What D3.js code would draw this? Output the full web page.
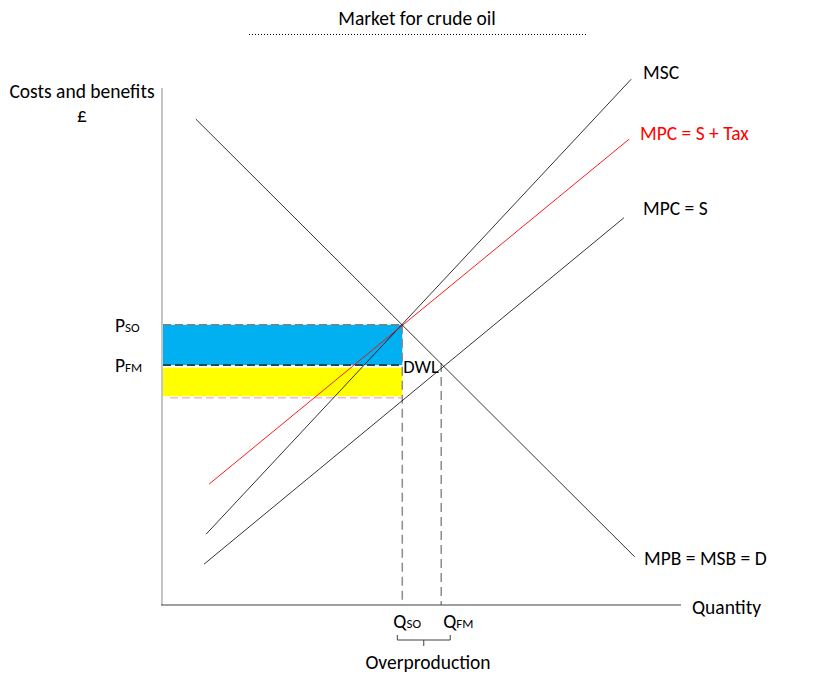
<!DOCTYPE html>
<html><head><meta charset="utf-8">
<script src="https://cdn.jsdelivr.net/npm/d3@7"></script>
<style>
html,body{margin:0;padding:0;background:#fff;}
svg{display:block;}
text{font-family:Carlito, Calibri, Lato, "Open Sans", sans-serif;}
</style></head>
<body>
<svg id="chart" width="831" height="685"></svg>
<script>
// ---- data ----
const title = "Market for crude oil";
const curveNames = ["MSC", "MPC = S + Tax", "MPC = S", "MPB = MSB = D"];
const curveColors = ["#000000", "#ff0000", "#000000", "#000000"];
const curveX0 = [8.5, 9.1, 8.1, 6.5];
const curveY0 = [13.7, 23.4, 7.9, 94.0];
const curveX1 = [90.4, 90.0, 89.0, 91.1];
const curveY1 = [101.7, 90.1, 74.9, 9.3];
const qLabels = ["SO", "FM"];
const qValues = [46.3, 53.8];
const pLabels = ["SO", "FM"];
const pValues = [54.2, 46.4];
const yellowBottom = 40.4;
const yAxisLabel = ["Costs and benefits", "£"];
const xAxisLabel = "Quantity";
const braceLabel = "Overproduction";
const areaLabel = "DWL";

// ---- layout ----
const FS = 19.5, FSS = 13;
const svg = d3.select("#chart");
const x = d3.scaleLinear().domain([0, 100]).range([162, 681]);
const y = d3.scaleLinear().domain([0, 100]).range([605, 88]);

// title
svg.append("text").attr("x", 417).attr("y", 25).attr("text-anchor", "middle")
  .attr("font-size", FS).attr("fill", "#000").text(title);
svg.append("line").attr("x1", 249).attr("x2", 588).attr("y1", 34.5).attr("y2", 34.5)
  .attr("stroke", "#000").attr("stroke-width", 1).attr("stroke-dasharray", "1,2");

// shaded areas
svg.append("rect").attr("x", x(0) + 1).attr("y", y(pValues[0]))
  .attr("width", x(qValues[0]) - x(0) - 1).attr("height", y(pValues[1]) - y(pValues[0]))
  .attr("fill", "#00b0f0");
svg.append("rect").attr("x", x(0) + 1).attr("y", y(pValues[1]) + 2.5)
  .attr("width", x(qValues[0]) - x(0) - 1).attr("height", y(yellowBottom) - y(pValues[1]) - 2.5)
  .attr("fill", "#ffff00");

// dashed guide lines
svg.append("line").attr("x1", x(0) + 1).attr("x2", x(qValues[0])).attr("y1", y(pValues[0])).attr("y2", y(pValues[0]))
  .attr("stroke", "#7f7f7f").attr("stroke-width", 1.5).attr("stroke-dasharray", "8,4");
svg.append("line").attr("x1", x(0) + 1).attr("x2", x(qValues[0])).attr("y1", y(pValues[1])).attr("y2", y(pValues[1]))
  .attr("stroke", "#000").attr("stroke-width", 1.3).attr("stroke-dasharray", "8,4");
svg.append("line").attr("x1", x(0) + 8).attr("x2", x(qValues[0])).attr("y1", y(yellowBottom) + 1.5).attr("y2", y(yellowBottom) + 1.5)
  .attr("stroke", "#ffb3b8").attr("stroke-width", 1.5).attr("stroke-dasharray", "8,4");
// vertical dashed from equilibria to quantity axis
svg.append("line").attr("x1", x(qValues[0])).attr("x2", x(qValues[0])).attr("y1", y(pValues[0])).attr("y2", y(0))
  .attr("stroke", "#8c8c8c").attr("stroke-width", 1.5).attr("stroke-dasharray", "9,5");
svg.append("line").attr("x1", x(qValues[1])).attr("x2", x(qValues[1])).attr("y1", y(pValues[1]) - 2).attr("y2", y(0))
  .attr("stroke", "#8c8c8c").attr("stroke-width", 1.5).attr("stroke-dasharray", "9,5");

// curves
curveNames.forEach((n, i) => {
  svg.append("line")
    .attr("x1", x(curveX0[i])).attr("y1", y(curveY0[i]))
    .attr("x2", x(curveX1[i])).attr("y2", y(curveY1[i]))
    .attr("stroke", curveColors[i]).attr("stroke-width", i === 1 ? 0.9 : 0.8);
});

// curve labels
const labelPos = [[643, 79], [640, 140], [643, 215], [644, 565]];
curveNames.forEach((n, i) => {
  svg.append("text").attr("x", labelPos[i][0]).attr("y", labelPos[i][1])
    .attr("font-size", FS).attr("fill", curveColors[i] === "#ff0000" ? "#ff0000" : "#000").text(n);
});

// axes
svg.append("line").attr("x1", x(0)).attr("x2", x(0)).attr("y1", y(100)).attr("y2", y(0))
  .attr("stroke", "#a6a6a6").attr("stroke-width", 1.3);
svg.append("line").attr("x1", x(0) - 1).attr("x2", x(100)).attr("y1", y(0)).attr("y2", y(0))
  .attr("stroke", "#404040").attr("stroke-width", 1.2);

svg.append("text").attr("x", 82).attr("y", 98).attr("text-anchor", "middle").attr("font-size", FS).text(yAxisLabel[0]);
svg.append("text").attr("x", 82).attr("y", 122).attr("text-anchor", "middle").attr("font-size", FS).text(yAxisLabel[1]);
svg.append("text").attr("x", 692).attr("y", 614).attr("font-size", FS).text(xAxisLabel);

// price labels
pLabels.forEach((l, i) => {
  const t = svg.append("text").attr("x", 115).attr("y", y(pValues[i]) + 7).attr("font-size", FS);
  t.append("tspan").text("P");
  t.append("tspan").attr("font-size", FSS).text(l);
});
// quantity labels
qLabels.forEach((l, i) => {
  const t = svg.append("text").attr("x", x(qValues[i]) + (i === 0 ? -9 : 2)).attr("y", 628).attr("font-size", FS);
  t.append("tspan").text("Q");
  t.append("tspan").attr("font-size", FSS).text(l);
});

// DWL label
svg.append("text").attr("x", x(qValues[0]) + 1).attr("y", y(pValues[1]) + 8).attr("font-size", FS - 1).text(areaLabel);

// brace
const bx0 = x(qValues[0]) - 5, bx1 = x(qValues[1]) + 9, bm = (bx0 + bx1) / 2;
svg.append("path")
  .attr("d", `M${bx0},635 L${bx0},640 L${bx1},640 L${bx1},635 M${bm},640 L${bm},646`)
  .attr("fill", "none").attr("stroke", "#404040").attr("stroke-width", 1);
svg.append("text").attr("x", 428).attr("y", 669).attr("text-anchor", "middle").attr("font-size", FS).text(braceLabel);
</script>
</body></html>
